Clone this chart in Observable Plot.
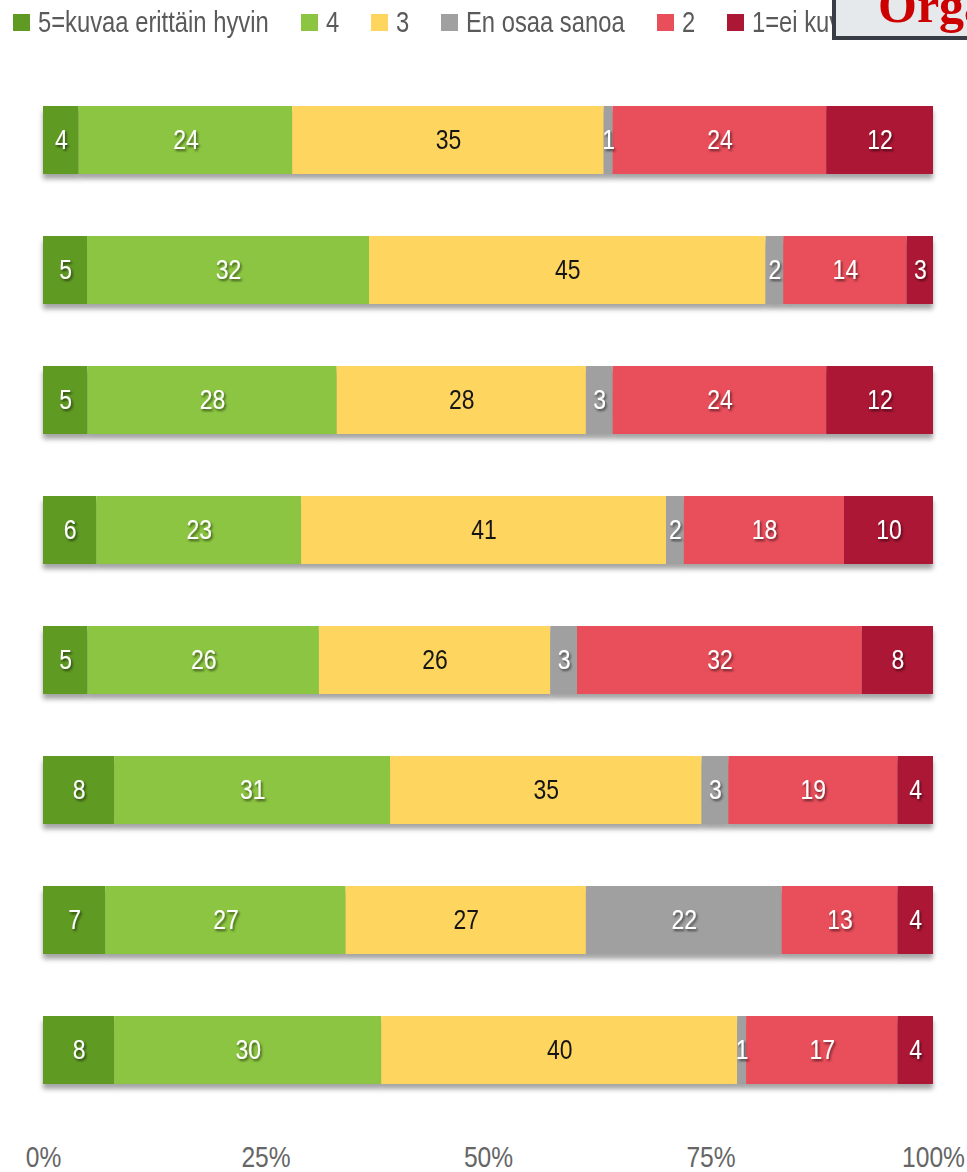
<!DOCTYPE html>
<html>
<head>
<meta charset="utf-8">
<script src="https://cdn.jsdelivr.net/npm/d3@7"></script>
<script src="https://cdn.jsdelivr.net/npm/@observablehq/plot@0.6"></script>
<style>
  html, body { margin: 0; padding: 0; background: #fff; }
  body { width: 967px; height: 1172px; overflow: hidden; position: relative;
         font-family: "Liberation Sans", Arial, sans-serif; }
  #legend { height: 44px; display: flex; align-items: center; padding-left: 13px; box-sizing: border-box;
            font-size: 29px; color: #5a5a5a; white-space: nowrap; }
  #legend .item { display: flex; align-items: center; margin-right: 32px; flex: none; }
  #legend .sw { width: 17px; height: 17px; margin-right: 8px; flex: none; }
  #legend .lab { display: inline-block; transform-origin: 0 50%; }
  #badge { position: absolute; left: 832px; top: -40px; width: 260px; height: 80px;
           background: #e6e9ec; border: 4px solid #383c44; box-sizing: border-box;
           font-family: "Liberation Serif", "DejaVu Serif", serif; font-weight: bold;
           font-size: 50px; color: #cc0000; line-height: 1; padding-left: 42px; padding-top: 16px;
           white-space: nowrap; }
  #chart svg { display: block; }
</style>
</head>
<body>
<div id="legend"></div>
<div id="chart"></div>
<div id="badge">Organisaatio</div>
<script>
// ---- data ----
const categories = ["Väite 1", "Väite 2", "Väite 3", "Väite 4", "Väite 5", "Väite 6", "Väite 7", "Väite 8"];
const responses = ["5=kuvaa erittäin hyvin", "4", "3", "En osaa sanoa", "2", "1=ei kuvaa lainkaan"];
const colors = ["#5f9a23", "#8bc541", "#fed55f", "#a0a0a0", "#e94e5b", "#ac1735"];
const v5 = [4, 5, 5, 6, 5, 8, 7, 8];
const v4 = [24, 32, 28, 23, 26, 31, 27, 30];
const v3 = [35, 45, 28, 41, 26, 35, 27, 40];
const vEOS = [1, 2, 3, 2, 3, 3, 22, 1];
const v2 = [24, 14, 24, 18, 32, 19, 13, 17];
const v1 = [12, 3, 12, 10, 8, 4, 4, 4];
const tickValues = [0, 0.25, 0.5, 0.75, 1];

const series = [v5, v4, v3, vEOS, v2, v1];
const table = [];
categories.forEach((cat, i) => {
  responses.forEach((resp, j) => {
    table.push({cat, resp, value: series[j][i]});
  });
});

const NARROW = 0.82;

// ---- legend ----
const legend = document.getElementById("legend");
responses.forEach((r, j) => {
  const item = document.createElement("div");
  item.className = "item";
  const sw = document.createElement("span");
  sw.className = "sw";
  sw.style.background = colors[j];
  const t = document.createElement("span");
  t.className = "lab";
  t.textContent = r;
  item.appendChild(sw);
  item.appendChild(t);
  legend.appendChild(item);
  const w = t.getBoundingClientRect().width;
  t.style.width = (w * NARROW) + "px";
  t.style.transform = `scaleX(${NARROW})`;
});

// ---- chart ----
const H = 1128;
const stackOpts = {x: "value", y: "cat", z: "resp", offset: "normalize"};
const chart = Plot.plot({
  width: 967,
  height: H,
  marginLeft: 43,
  marginRight: 34,
  marginTop: 0,
  marginBottom: 40,
  style: {fontFamily: '"Liberation Sans", Arial, sans-serif', background: "transparent"},
  x: {domain: [0, 1]},
  y: {domain: categories, range: [28.8, 1072.2], paddingInner: 0.48, paddingOuter: 0.24, axis: null},
  color: {domain: responses, range: colors},
  marks: [
    Plot.barX(table, Plot.stackX({...stackOpts, fill: "#8c8c8c", dy: 5})),
    Plot.barX(table, Plot.stackX({...stackOpts, fill: "resp"})),
    Plot.text(table, Plot.stackX({...stackOpts, text: d => d.resp === "3" ? null : d.value,
      fill: "white", fontSize: 28})),
    Plot.text(table, Plot.stackX({...stackOpts, text: d => d.resp === "3" ? d.value : null,
      fill: "#151515", fontSize: 28})),
    Plot.axisX(tickValues, {tickSize: 0, tickPadding: 13, tickFormat: d3.format(".0%"),
      fontSize: 30, color: "#666", label: null})
  ]
});
document.getElementById("chart").appendChild(chart);

// condense all chart texts horizontally (keep their positions)
chart.querySelectorAll("text").forEach(el => {
  let tr = el.getAttribute("transform") || "";
  const x = el.getAttribute("x");
  if (x != null && x !== "" && !isNaN(+x)) {
    tr += ` translate(${+x},0)`;
    el.removeAttribute("x");
  }
  el.setAttribute("transform", (tr + ` scale(${NARROW},1)`).trim());
});

// filters: blurred bar shadow, drop shadow under white labels
const svg = d3.select(chart);
const defs = svg.insert("defs", ":first-child");
defs.append("filter").attr("id", "barShadow").attr("x", "-5%").attr("y", "-50%").attr("width", "110%").attr("height", "200%")
  .append("feGaussianBlur").attr("stdDeviation", 2.5);
const ds = defs.append("filter").attr("id", "textShadow").attr("x", "-20%").attr("y", "-20%").attr("width", "150%").attr("height", "150%");
ds.append("feDropShadow").attr("dx", 1.5).attr("dy", 2).attr("stdDeviation", 1).attr("flood-color", "#000").attr("flood-opacity", 0.55);
const bars = chart.querySelectorAll("g[aria-label='bar']");
bars[0].setAttribute("filter", "url(#barShadow)");
bars[0].setAttribute("opacity", "0.8");
const texts = chart.querySelectorAll("g[aria-label='text']");
texts[0].setAttribute("filter", "url(#textShadow)");
</script>
</body>
</html>
